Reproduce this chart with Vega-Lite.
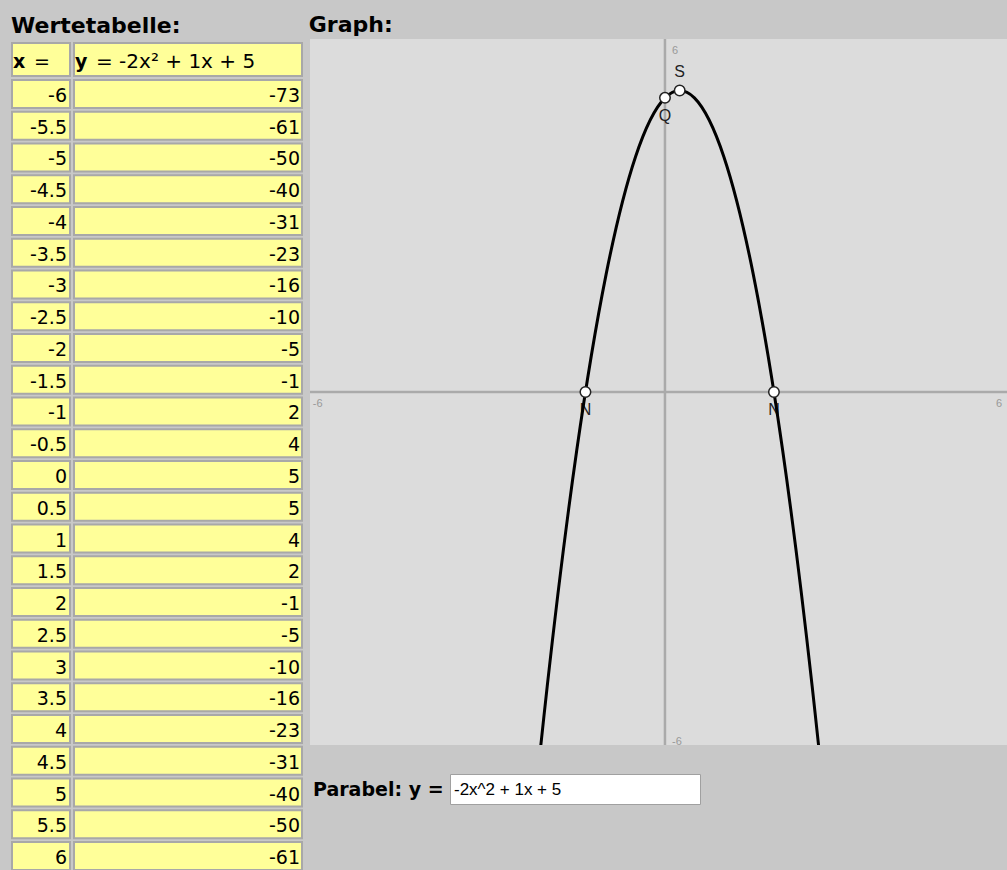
{
  "$schema": "https://vega.github.io/schema/vega-lite/v6.json",
  "background": "#c8c8c8",
  "padding": {"left": 11, "top": 13, "right": 0, "bottom": 0},
  "spacing": 5,
  "config": {
    "view": {"stroke": null},
    "axis": {"disable": true},
    "title": {"font": "DejaVu Sans", "fontSize": 22, "fontWeight": "bold", "color": "#000000", "anchor": "start", "baseline": "top"},
    "text": {"font": "DejaVu Sans", "color": "#000000"}
  },
  "datasets": {
    "tbl": [
      {"x": -6, "y": -73}, {"x": -5.5, "y": -61}, {"x": -5, "y": -50}, {"x": -4.5, "y": -40},
      {"x": -4, "y": -31}, {"x": -3.5, "y": -23}, {"x": -3, "y": -16}, {"x": -2.5, "y": -10},
      {"x": -2, "y": -5}, {"x": -1.5, "y": -1}, {"x": -1, "y": 2}, {"x": -0.5, "y": 4},
      {"x": 0, "y": 5}, {"x": 0.5, "y": 5}, {"x": 1, "y": 4}, {"x": 1.5, "y": 2},
      {"x": 2, "y": -1}, {"x": 2.5, "y": -5}, {"x": 3, "y": -10}, {"x": 3.5, "y": -16},
      {"x": 4, "y": -23}, {"x": 4.5, "y": -31}, {"x": 5, "y": -40}, {"x": 5.5, "y": -50},
      {"x": 6, "y": -61}
    ],
    "pts": [
      {"name": "S", "x": 0.25, "y": 5.125},
      {"name": "Q", "x": 0, "y": 5},
      {"name": "N", "x": -1.351, "y": 0},
      {"name": "N", "x": 1.851, "y": 0}
    ],
    "ticks": [
      {"axis": "x", "v": -6}, {"axis": "x", "v": 6},
      {"axis": "y", "v": 6}, {"axis": "y", "v": -6}
    ]
  },
  "hconcat": [
    {
      "title": {"text": "Wertetabelle:", "offset": 1},
      "spacing": 2,
      "vconcat": [
        {
          "width": 290, "height": 1,
          "data": {"values": []},
          "mark": "text",
          "encoding": {}
        },
        {
          "spacing": 2,
          "vconcat": [
            {
              "spacing": 2,
              "hconcat": [
                {
                  "width": 58, "height": 33,
                  "view": {"fill": "#ffff99", "stroke": "#a8a8a8", "strokeWidth": 2},
                  "data": {"values": [{"var": "x", "rest": "="}]},
                  "layer": [
                    {"mark": {"type": "text", "align": "left", "baseline": "middle", "fontSize": 19, "fontWeight": "bold", "dx": 1, "dy": 2},
                     "encoding": {"x": {"value": 0}, "text": {"field": "var", "type": "nominal"}}},
                    {"mark": {"type": "text", "align": "left", "baseline": "middle", "fontSize": 19, "dx": 22, "dy": 2},
                     "encoding": {"x": {"value": 0}, "text": {"field": "rest", "type": "nominal"}}}
                  ]
                },
                {
                  "width": 228, "height": 33,
                  "view": {"fill": "#ffff99", "stroke": "#a8a8a8", "strokeWidth": 2},
                  "data": {"values": [{"var": "y", "rest": "= -2x² + 1x + 5"}]},
                  "layer": [
                    {"mark": {"type": "text", "align": "left", "baseline": "middle", "fontSize": 19, "fontWeight": "bold", "dx": 1, "dy": 2},
                     "encoding": {"x": {"value": 0}, "text": {"field": "var", "type": "nominal"}}},
                    {"mark": {"type": "text", "align": "left", "baseline": "middle", "fontSize": 20, "dx": 22, "dy": 2},
                     "encoding": {"x": {"value": 0}, "text": {"field": "rest", "type": "nominal"}}}
                  ]
                }
              ]
            },
            {
              "spacing": 2,
              "hconcat": [
                {
                  "width": 58, "height": 790,
                  "data": {"name": "tbl"},
                  "encoding": {"y": {"field": "x", "type": "ordinal", "axis": null, "scale": {"paddingInner": 0.12, "paddingOuter": 0}}},
                  "layer": [
                    {"mark": {"type": "rect", "fill": "#ffff99", "stroke": "#a8a8a8", "strokeWidth": 2},
                     "encoding": {"x": {"value": 0}, "x2": {"value": "width"}}},
                    {"mark": {"type": "text", "align": "right", "baseline": "middle", "fontSize": 19, "dx": -3, "dy": 2},
                     "encoding": {"x": {"value": "width"}, "text": {"field": "x", "type": "nominal"}}}
                  ]
                },
                {
                  "width": 228, "height": 790,
                  "data": {"name": "tbl"},
                  "encoding": {"y": {"field": "x", "type": "ordinal", "axis": null, "scale": {"paddingInner": 0.12, "paddingOuter": 0}}},
                  "layer": [
                    {"mark": {"type": "rect", "fill": "#ffff99", "stroke": "#a8a8a8", "strokeWidth": 2},
                     "encoding": {"x": {"value": 0}, "x2": {"value": "width"}}},
                    {"mark": {"type": "text", "align": "right", "baseline": "middle", "fontSize": 19, "dx": -2, "dy": 2},
                     "encoding": {"x": {"value": "width"}, "text": {"field": "y", "type": "nominal"}}}
                  ]
                }
              ]
            }
          ]
        }
      ]
    },
    {
      "spacing": 26,
      "vconcat": [
        {
          "title": {"text": "Graph:", "offset": 1},
          "width": 697, "height": 706,
          "view": {"fill": "#dcdcdc"},
          "layer": [
            {
              "data": {"values": [{"v": 0}]},
              "mark": {"type": "rule", "color": "#aaaaaa", "strokeWidth": 2.5},
              "encoding": {"x": {"field": "v", "type": "quantitative", "axis": null, "scale": {"domain": [-6.03, 5.81], "nice": false, "zero": false}}}
            },
            {
              "data": {"values": [{"v": 0}]},
              "mark": {"type": "rule", "color": "#aaaaaa", "strokeWidth": 2.5},
              "encoding": {"y": {"field": "v", "type": "quantitative", "axis": null, "scale": {"domain": [-6, 6], "nice": false, "zero": false}}}
            },
            {
              "data": {"name": "ticks"},
              "transform": [{"filter": "datum.axis == 'x' && datum.v < 0"}],
              "mark": {"type": "text", "align": "left", "baseline": "top", "fontSize": 11, "font": "Liberation Sans", "color": "#999999", "dx": 1, "dy": 6, "clip": true},
              "encoding": {
                "x": {"field": "v", "type": "quantitative", "axis": null, "scale": {"domain": [-6.03, 5.81], "nice": false, "zero": false}},
                "y": {"datum": 0, "type": "quantitative", "axis": null, "scale": {"domain": [-6, 6], "nice": false, "zero": false}},
                "text": {"field": "v", "type": "nominal"}
              }
            },
            {
              "data": {"name": "ticks"},
              "transform": [{"filter": "datum.axis == 'x' && datum.v > 0"}],
              "mark": {"type": "text", "align": "right", "baseline": "top", "fontSize": 11, "font": "Liberation Sans", "color": "#999999", "dx": -16, "dy": 6, "clip": true},
              "encoding": {
                "x": {"field": "v", "type": "quantitative", "axis": null},
                "y": {"datum": 0, "type": "quantitative", "axis": null},
                "text": {"field": "v", "type": "nominal"}
              }
            },
            {
              "data": {"name": "ticks"},
              "transform": [{"filter": "datum.axis == 'y' && datum.v > 0"}],
              "mark": {"type": "text", "align": "left", "baseline": "top", "fontSize": 11, "font": "Liberation Sans", "color": "#999999", "dx": 7, "dy": 6, "clip": true},
              "encoding": {
                "x": {"datum": 0, "type": "quantitative", "axis": null},
                "y": {"field": "v", "type": "quantitative", "axis": null},
                "text": {"field": "v", "type": "nominal"}
              }
            },
            {
              "data": {"name": "ticks"},
              "transform": [{"filter": "datum.axis == 'y' && datum.v < 0"}],
              "mark": {"type": "text", "align": "left", "baseline": "alphabetic", "fontSize": 11, "font": "Liberation Sans", "color": "#999999", "dx": 7, "dy": 0, "clip": true},
              "encoding": {
                "x": {"datum": 0, "type": "quantitative", "axis": null},
                "y": {"field": "v", "type": "quantitative", "axis": null},
                "text": {"field": "v", "type": "nominal"}
              }
            },
            {
              "data": {"name": "pts"},
              "transform": [{"filter": "datum.name == 'S'"}],
              "mark": {"type": "text", "align": "center", "baseline": "middle", "fontSize": 16, "font": "Liberation Sans", "color": "#222222", "dy": -18},
              "encoding": {
                "x": {"field": "x", "type": "quantitative", "axis": null},
                "y": {"field": "y", "type": "quantitative", "axis": null},
                "text": {"field": "name", "type": "nominal"}
              }
            },
            {
              "data": {"name": "pts"},
              "transform": [{"filter": "datum.name != 'S'"}],
              "mark": {"type": "text", "align": "center", "baseline": "middle", "fontSize": 16, "font": "Liberation Sans", "color": "#222222", "dy": 18},
              "encoding": {
                "x": {"field": "x", "type": "quantitative", "axis": null},
                "y": {"field": "y", "type": "quantitative", "axis": null},
                "text": {"field": "name", "type": "nominal"}
              }
            },
            {
              "data": {"name": "tbl"},
              "mark": {"type": "line", "color": "#000000", "strokeWidth": 3, "interpolate": "natural", "clip": true},
              "encoding": {
                "x": {"field": "x", "type": "quantitative", "axis": null},
                "y": {"field": "y", "type": "quantitative", "axis": null}
              }
            },
            {
              "data": {"name": "pts"},
              "mark": {"type": "circle", "fill": "#ffffff", "stroke": "#222222", "strokeWidth": 1.5, "size": 110, "opacity": 1},
              "encoding": {
                "x": {"field": "x", "type": "quantitative", "axis": null},
                "y": {"field": "y", "type": "quantitative", "axis": null}
              }
            }
          ]
        },
        {
          "spacing": 5,
          "hconcat": [
            {
              "width": 132, "height": 30,
              "data": {"values": [{"label": "Parabel: y ="}]},
              "mark": {"type": "text", "align": "left", "baseline": "middle", "fontSize": 19, "fontWeight": "bold", "dx": 3, "dy": 1},
              "encoding": {"x": {"value": 0}, "text": {"field": "label", "type": "nominal"}}
            },
            {
              "width": 250, "height": 30,
              "view": {"fill": "#ffffff", "stroke": "#a0a0a0", "strokeWidth": 1},
              "data": {"values": [{"formula": "-2x^2 + 1x + 5"}]},
              "mark": {"type": "text", "align": "left", "baseline": "middle", "font": "Liberation Sans", "fontSize": 17, "dx": 4, "dy": 1},
              "encoding": {"x": {"value": 0}, "text": {"field": "formula", "type": "nominal"}}
            }
          ]
        }
      ]
    }
  ]
}
